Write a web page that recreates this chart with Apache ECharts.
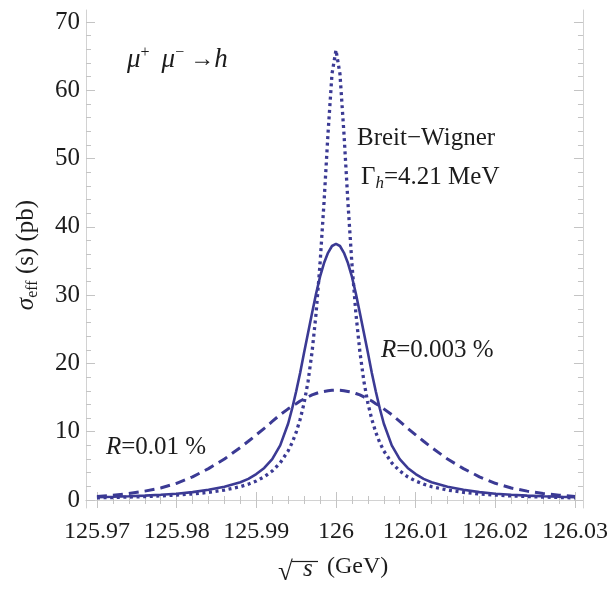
<!DOCTYPE html>
<html>
<head>
<meta charset="utf-8">
<script src="https://cdn.jsdelivr.net/npm/echarts@6/dist/echarts.min.js"></script>
<style>
  html, body { margin: 0; padding: 0; background: #fff; }
  #chart { width: 611px; height: 591px; }
</style>
</head>
<body>
<div id="chart"></div>
<script>
// sqrt(s) in GeV
const sqrtS = [
  125.970, 125.972, 125.974, 125.976, 125.978, 125.980, 125.982, 125.984, 125.986, 125.988,
  125.989, 125.990, 125.991, 125.992, 125.993, 125.994,
  125.9945, 125.995, 125.9955, 125.996, 125.9965, 125.997, 125.9975, 125.998, 125.9985, 125.999, 125.9995,
  126.000,
  126.0005, 126.001, 126.0015, 126.002, 126.0025, 126.003, 126.0035, 126.004, 126.0045, 126.005, 126.0055,
  126.006, 126.007, 126.008, 126.009, 126.010, 126.011, 126.012,
  126.014, 126.016, 126.018, 126.020, 126.022, 126.024, 126.026, 126.028, 126.030
];

// Breit-Wigner, Gamma_h = 4.21 MeV (dotted)
const breitWigner = [
  0.32, 0.37, 0.43, 0.50, 0.60, 0.72, 0.88, 1.12, 1.45, 1.96,
  2.32, 2.78, 3.40, 4.25, 5.44, 7.2,
  8.4, 9.9, 11.8, 14.2, 17.4, 21.7, 27.3, 34.6, 43.6, 53.7, 62.4,
  65.9,
  62.4, 53.7, 43.6, 34.6, 27.3, 21.7, 17.4, 14.2, 11.8, 9.9, 8.4,
  7.2, 5.44, 4.25, 3.40, 2.78, 2.32, 1.96,
  1.45, 1.12, 0.88, 0.72, 0.60, 0.50, 0.43, 0.37, 0.32
];

// R = 0.003 % (solid)
const res003 = [
  0.42, 0.48, 0.55, 0.64, 0.76, 0.92, 1.15, 1.5, 1.95, 2.6,
  3.1, 3.8, 4.7, 6.0, 8.0, 11.2,
  13.4, 15.9, 18.6, 21.6, 24.5, 27.4, 30.2, 32.7, 34.7, 36.2, 37.2,
  37.5,
  37.2, 36.2, 34.7, 32.7, 30.2, 27.4, 24.5, 21.6, 18.6, 15.9, 13.4,
  11.2, 8.0, 6.0, 4.7, 3.8, 3.1, 2.6,
  1.95, 1.5, 1.15, 0.92, 0.76, 0.64, 0.55, 0.48, 0.42
];

// R = 0.01 % (dashed)
const res01 = [
  0.52, 0.7, 0.95, 1.3, 1.75, 2.45, 3.4, 4.6, 6.0, 7.7,
  8.6, 9.55, 10.5, 11.5, 12.5, 13.35,
  13.75, 14.1, 14.5, 14.8, 15.1, 15.4, 15.6, 15.8, 15.9, 16.0, 16.08,
  16.1,
  16.08, 16.0, 15.9, 15.8, 15.6, 15.4, 15.1, 14.8, 14.5, 14.1, 13.75,
  13.35, 12.5, 11.5, 10.5, 9.55, 8.6, 7.7,
  6.0, 4.6, 3.4, 2.45, 1.75, 1.3, 0.95, 0.7, 0.52
];

// ticks
const xMajor = [125.97, 125.98, 125.99, 126, 126.01, 126.02, 126.03];
const xMinor = [
  125.972, 125.974, 125.976, 125.978, 125.982, 125.984, 125.986, 125.988,
  125.992, 125.994, 125.996, 125.998, 126.002, 126.004, 126.006, 126.008,
  126.012, 126.014, 126.016, 126.018, 126.022, 126.024, 126.026, 126.028
];
const yMajor = [0, 10, 20, 30, 40, 50, 60, 70];
const yMinor = [2, 4, 6, 8, 12, 14, 16, 18, 22, 24, 26, 28, 32, 34, 36, 38,
  42, 44, 46, 48, 52, 54, 56, 58, 62, 64, 66, 68];

const serif = "'Liberation Serif', 'Times New Roman', serif";
const lineColor = '#3b3a94';
const frameColor = '#d2d2d2';
const textColor = '#1c1c1c';

const X_MIN = 125.968625, X_MAX = 126.031;
const Y_MIN = -1.17, Y_MAX = 71.76;

const chart = echarts.init(document.getElementById('chart'), null, { renderer: 'canvas' });

// 一条坐标轴（主刻度或次刻度）
const makeAxis = (dim, pos, ticks, len, withLine, withLabel) => {
  const axis = {
    type: 'value',
    position: pos,
    min: dim === 'x' ? X_MIN : Y_MIN,
    max: dim === 'x' ? X_MAX : Y_MAX,
    splitLine: { show: false },
    axisLine: { show: withLine, lineStyle: { color: frameColor, width: 1 } },
    axisTick: {
      show: true,
      inside: true,
      length: len,
      customValues: ticks,
      lineStyle: { color: '#c4c4c4', width: 1 }
    },
    axisLabel: { show: false }
  };
  if (withLabel) {
    axis.axisLabel = {
      show: true,
      customValues: ticks,
      color: textColor,
      fontFamily: serif,
      fontSize: dim === 'x' ? 24 : 25,
      margin: dim === 'x' ? 12 : 6,
      formatter: v => String(+(+v).toFixed(2))
    };
  }
  return axis;
};

const toPairs = arr => sqrtS.map((x, i) => [x, arr[i]]);

const option = {
  animation: false,
  backgroundColor: '#ffffff',
  grid: { left: 86, right: 26, top: 10, bottom: 83, containLabel: false },
  xAxis: [
    makeAxis('x', 'bottom', xMajor, 8, true, true),
    makeAxis('x', 'bottom', xMinor, 4, false, false),
    makeAxis('x', 'top', xMajor, 8, true, false),
    makeAxis('x', 'top', xMinor, 4, false, false)
  ],
  yAxis: [
    makeAxis('y', 'left', yMajor, 9, true, true),
    makeAxis('y', 'left', yMinor, 5, false, false),
    makeAxis('y', 'right', yMajor, 9, true, false),
    makeAxis('y', 'right', yMinor, 5, false, false)
  ],
  series: [
    {
      name: 'R=0.01 %',
      type: 'line',
      data: toPairs(res01),
      showSymbol: false,
      symbol: 'none',
      silent: true,
      lineStyle: { color: lineColor, width: 3, type: [10, 6] },
      z: 2
    },
    {
      name: 'Breit-Wigner',
      type: 'line',
      data: toPairs(breitWigner),
      showSymbol: false,
      symbol: 'none',
      silent: true,
      lineStyle: { color: lineColor, width: 3.3, type: [3, 3.6] },
      z: 3
    },
    {
      name: 'R=0.003 %',
      type: 'line',
      data: toPairs(res003),
      showSymbol: false,
      symbol: 'none',
      silent: true,
      lineStyle: { color: lineColor, width: 2.6 },
      z: 4
    }
  ],
  graphic: [
    // 左上角过程
    {
      type: 'text', left: 127, top: 45,
      style: {
        text: '{i|μ}{sup|+}{n|  }{i|μ}{sup|−}{n| →}{i|h}',
        fill: textColor,
        rich: {
          i: { fontFamily: serif, fontStyle: 'italic', fontSize: 27, fill: textColor, lineHeight: 30 },
          n: { fontFamily: serif, fontSize: 24, fill: textColor, lineHeight: 30 },
          sup: { fontFamily: serif, fontSize: 16, fill: textColor, lineHeight: 30, verticalAlign: 'top', padding: [0, 0, 14, 0] }
        }
      }
    },
    {
      type: 'text', left: 357, top: 126,
      style: { text: 'Breit−Wigner', fill: textColor, font: '25px ' + serif }
    },
    {
      type: 'text', left: 361, top: 163,
      style: {
        text: '{n|Γ}{sub|h}{n|=4.21 MeV}',
        fill: textColor,
        rich: {
          n: { fontFamily: serif, fontSize: 25, fill: textColor, lineHeight: 30 },
          sub: { fontFamily: serif, fontStyle: 'italic', fontSize: 17, fill: textColor, lineHeight: 30, verticalAlign: 'bottom', padding: [12, 0, 0, 0] }
        }
      }
    },
    {
      type: 'text', left: 381, top: 338,
      style: {
        text: '{i|R}{n|=0.003 %}',
        fill: textColor,
        rich: {
          i: { fontFamily: serif, fontStyle: 'italic', fontSize: 25, fill: textColor },
          n: { fontFamily: serif, fontSize: 25, fill: textColor }
        }
      }
    },
    {
      type: 'text', left: 106, top: 435,
      style: {
        text: '{i|R}{n|=0.01 %}',
        fill: textColor,
        rich: {
          i: { fontFamily: serif, fontStyle: 'italic', fontSize: 25, fill: textColor },
          n: { fontFamily: serif, fontSize: 25, fill: textColor }
        }
      }
    },
    // y 轴标题
    {
      type: 'text', x: 26, y: 255, rotation: Math.PI / 2,
      style: {
        text: '{s|σ}{sub|eff}{n| (s) (pb)}',
        fill: textColor,
        align: 'center',
        verticalAlign: 'middle',
        rich: {
          s: { fontFamily: serif, fontStyle: 'italic', fontSize: 25, fill: textColor, lineHeight: 30 },
          n: { fontFamily: serif, fontSize: 25, fill: textColor, lineHeight: 30 },
          sub: { fontFamily: serif, fontSize: 16, fill: textColor, lineHeight: 30, verticalAlign: 'bottom', padding: [8, 0, 0, 0] }
        }
      }
    },
    // x 轴标题
    {
      type: 'text', left: 278, top: 559,
      style: { text: '√', fill: textColor, font: '27px ' + serif }
    },
    {
      type: 'line',
      shape: { x1: 292, y1: 561.5, x2: 318, y2: 561.5 },
      style: { stroke: textColor, lineWidth: 1.2 }
    },
    {
      type: 'text', left: 303, top: 557,
      style: { text: 's', fill: textColor, font: 'italic 25px ' + serif }
    },
    {
      type: 'text', left: 327, top: 555,
      style: { text: '(GeV)', fill: textColor, font: '24px ' + serif }
    }
  ]
};

chart.setOption(option);
</script>
</body>
</html>
